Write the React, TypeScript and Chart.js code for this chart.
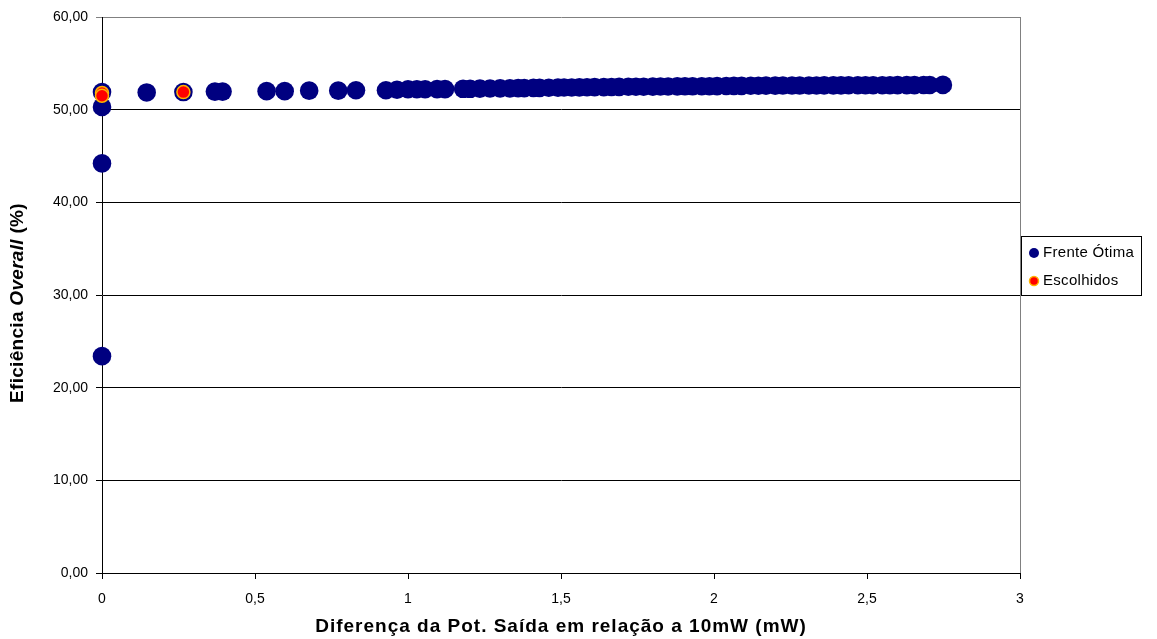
import React, { useEffect, useRef } from "react";
import { Chart, registerables } from "chart.js";

Chart.register(...registerables);

// ---- Data ----
const frenteX: number[] = [
  0, 0, 0, 0,
  0.146, 0.266, 0.369, 0.394, 0.538, 0.597, 0.677, 0.772, 0.830, 0.928,
  0.964, 1.0, 1.029, 1.056, 1.095, 1.121, 1.18, 1.203, 1.235, 1.268,
  1.301, 1.333, 1.36, 1.38, 1.41, 1.43, 1.46, 1.49, 1.51, 1.535,
  1.56, 1.585, 1.61, 1.64, 1.665, 1.69, 1.72, 1.745, 1.77, 1.8,
  1.825, 1.85, 1.88, 1.905, 1.93, 1.96, 1.985, 2.01, 2.04, 2.065,
  2.09, 2.12, 2.145, 2.17, 2.2, 2.225, 2.255, 2.28, 2.31, 2.335,
  2.36, 2.39, 2.415, 2.44, 2.47, 2.495, 2.52, 2.55, 2.575, 2.6,
  2.63, 2.655, 2.685, 2.705, 2.748,
];
const frenteY: number[] = [
  23.4, 44.2, 50.3, 51.9,
  51.86, 51.9, 51.95, 51.95, 52.0, 52.0, 52.05, 52.05, 52.1, 52.1,
  52.15, 52.2, 52.2, 52.2, 52.22, 52.22, 52.25, 52.25, 52.27, 52.28,
  52.3, 52.3, 52.32, 52.33, 52.35, 52.35, 52.37, 52.38, 52.4, 52.4,
  52.41, 52.42, 52.43, 52.43, 52.45, 52.46, 52.47, 52.48, 52.48, 52.49,
  52.5, 52.5, 52.51, 52.52, 52.52, 52.53, 52.53, 52.54, 52.55, 52.57,
  52.57, 52.58, 52.58, 52.59, 52.59, 52.6, 52.6, 52.6, 52.61, 52.61,
  52.62, 52.62, 52.62, 52.63, 52.63, 52.63, 52.64, 52.64, 52.64, 52.65,
  52.65, 52.65, 52.66, 52.66, 52.67,
];
const escolhidosX: number[] = [0, 0, 0.266];
const escolhidosY: number[] = [51.8, 51.5, 51.9];

const xTicks: number[] = [0, 0.5, 1, 1.5, 2, 2.5, 3];
const yTicks: number[] = [0, 10, 20, 30, 40, 50, 60];

const seriesLabels = ["Frente Ótima", "Escolhidos"];
const xTitle = "Diferença da Pot. Saída em relação a 10mW (mW)";
const yTitleParts: { text: string; italic: boolean }[] = [
  { text: "Eficiência ", italic: false },
  { text: "Overall", italic: true },
  { text: " (%)", italic: false },
];

const FONT = "'Liberation Sans', Arial, sans-serif";
const NAVY = "#000080";
const RED = "#FF0000";
const ORANGE = "#FFB400";

const setSpacing = (ctx: any, px: number) => {
  if ("letterSpacing" in ctx) ctx.letterSpacing = `${px}px`;
};

const decorPlugin = {
  id: "decor",
  afterDraw(chart: any) {
    const { ctx, chartArea } = chart;
    const { left, right, top, bottom } = chartArea;
    ctx.save();
    // right frame (gray)
    ctx.strokeStyle = "#808080";
    ctx.lineWidth = 1;
    ctx.beginPath();
    ctx.moveTo(Math.round(right) + 0.5, top);
    ctx.lineTo(Math.round(right) + 0.5, bottom);
    ctx.stroke();

    // x title
    ctx.fillStyle = "#000";
    ctx.font = `bold 19px ${FONT}`;
    setSpacing(ctx, 1);
    ctx.textAlign = "center";
    ctx.textBaseline = "middle";
    ctx.fillText(xTitle, (left + right) / 2, 627);

    // y title (mixed styles)
    ctx.save();
    ctx.translate(18, 303);
    ctx.rotate(-Math.PI / 2);
    ctx.textAlign = "left";
    ctx.textBaseline = "middle";
    setSpacing(ctx, 0.3);
    let total = 0;
    const widths = yTitleParts.map((p) => {
      ctx.font = `${p.italic ? "italic " : ""}bold 19px ${FONT}`;
      const w = ctx.measureText(p.text).width;
      total += w;
      return w;
    });
    let x = -total / 2;
    yTitleParts.forEach((p, i) => {
      ctx.font = `${p.italic ? "italic " : ""}bold 19px ${FONT}`;
      ctx.fillText(p.text, x, 0);
      x += widths[i];
    });
    ctx.restore();

    // legend
    const lx = 1021, ly = 236, lw = 120, lh = 59;
    setSpacing(ctx, 0.3);
    ctx.strokeStyle = "#000";
    ctx.lineWidth = 1;
    ctx.strokeRect(lx + 0.5, ly + 0.5, lw, lh);
    ctx.font = `15px ${FONT}`;
    ctx.textAlign = "left";
    ctx.textBaseline = "middle";
    const rows = [253, 281];
    ctx.beginPath();
    ctx.arc(lx + 13, rows[0], 5, 0, Math.PI * 2);
    ctx.fillStyle = NAVY;
    ctx.fill();
    ctx.fillStyle = "#000";
    ctx.fillText(seriesLabels[0], lx + 22, rows[0]);
    ctx.beginPath();
    ctx.arc(lx + 13, rows[1], 4.5, 0, Math.PI * 2);
    ctx.fillStyle = RED;
    ctx.fill();
    ctx.strokeStyle = ORANGE;
    ctx.lineWidth = 1.5;
    ctx.stroke();
    ctx.fillStyle = "#000";
    ctx.fillText(seriesLabels[1], lx + 22, rows[1]);
    setSpacing(ctx, 0);
    ctx.restore();
  },
};

export default function App() {
  const ref = useRef<HTMLCanvasElement | null>(null);
  useEffect(() => {
    if (!ref.current) return;
    const chart = new Chart(ref.current, {
      type: "scatter",
      data: {
        datasets: [
          {
            label: seriesLabels[0],
            data: frenteX.map((x, i) => ({ x, y: frenteY[i] })),
            backgroundColor: NAVY,
            borderColor: NAVY,
            borderWidth: 0,
            pointRadius: 9.3,
            clip: false,
            order: 1,
          },
          {
            label: seriesLabels[1],
            data: escolhidosX.map((x, i) => ({ x, y: escolhidosY[i] })),
            backgroundColor: RED,
            borderColor: ORANGE,
            borderWidth: 1.5,
            pointRadius: 6.5,
            clip: false,
            order: 0,
          },
        ],
      },
      options: {
        responsive: false,
        animation: false,
        layout: { padding: { left: 0, top: 17, right: 137, bottom: 0 } },
        plugins: {
          legend: { display: false },
          tooltip: { enabled: false },
        },
        scales: {
          x: {
            type: "linear",
            min: 0,
            max: 3,
            afterFit: (s: any) => {
              s.height = 66;
            },
            afterBuildTicks: (s: any) => {
              s.ticks = xTicks.map((v) => ({ value: v }));
            },
            ticks: {
              color: "#000",
              font: { family: FONT, size: 14 },
              padding: 12,
              maxRotation: 0,
              callback: (v: any) => String(v).replace(".", ","),
            },
            grid: {
              drawOnChartArea: false,
              drawTicks: true,
              tickLength: 6,
              color: "#000",
            },
            border: { display: true, color: "#000", width: 1 },
          },
          y: {
            type: "linear",
            min: 0,
            max: 60,
            afterFit: (s: any) => {
              s.width = 102;
            },
            afterBuildTicks: (s: any) => {
              s.ticks = yTicks.map((v) => ({ value: v }));
            },
            ticks: {
              color: "#000",
              font: { family: FONT, size: 14 },
              padding: 8,
              callback: (v: any) => Number(v).toFixed(2).replace(".", ","),
            },
            grid: {
              drawOnChartArea: true,
              drawTicks: true,
              tickLength: 6,
              color: (c: any) => (c.tick && c.tick.value === 60 ? "#808080" : "#000"),
            },
            border: { display: true, color: "#000", width: 1 },
          },
        },
      },
      plugins: [decorPlugin],
    } as any);
    return () => chart.destroy();
  }, []);
  return (
    <div style={{ position: "absolute", left: 0, top: 0, width: 1157, height: 639, background: "#fff" }}>
      <canvas ref={ref} width={1157} height={639} style={{ display: "block" }} />
    </div>
  );
}
